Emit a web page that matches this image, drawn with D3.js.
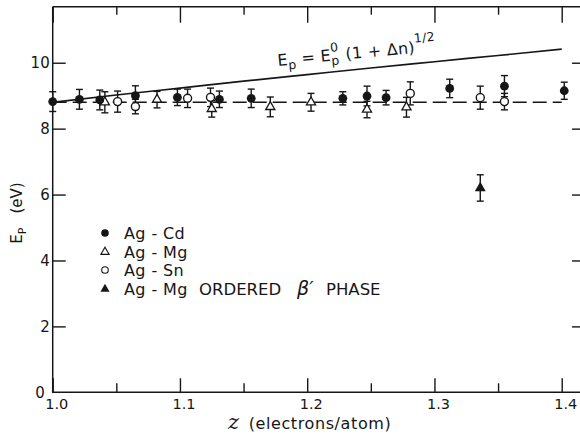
<!DOCTYPE html>
<html><head><meta charset="utf-8">
<script src="https://cdn.jsdelivr.net/npm/d3@7"></script>
<style>
body{margin:0;background:#fff;}
svg{display:block;}
text{font-family:"DejaVu Sans",sans-serif;fill:#161616;white-space:pre;}
</style></head>
<body><svg id="c" width="580" height="440"></svg>
<script>
// ---- data ----
const xTickMajor = [1.0, 1.1, 1.2, 1.3, 1.4];
const xTickLabels = ["1.0", "1.1", "1.2", "1.3", "1.4"];
const xTickMinor = [1.05, 1.15, 1.25, 1.35];
const yTicks = [0, 2, 4, 6, 8, 10];
const yTickLabels = ["0", "2", "4", "6", "8", "10"];

// Ag-Cd (filled circles): z, Ep, error
const agCdZ   = [1.000, 1.021, 1.037, 1.065, 1.098, 1.131, 1.156, 1.228, 1.247, 1.262, 1.312, 1.355, 1.402];
const agCdE   = [8.82, 8.89, 8.87, 9.00, 8.95, 8.89, 8.92, 8.92, 8.99, 8.94, 9.22, 9.29, 9.15];
const agCdErr = [0.30, 0.30, 0.30, 0.30, 0.25, 0.25, 0.28, 0.20, 0.30, 0.22, 0.28, 0.32, 0.26];

// Ag-Mg (open triangles)
const agMgZ   = [1.041, 1.082, 1.125, 1.171, 1.203, 1.247, 1.278];
const agMgE   = [8.80, 8.88, 8.60, 8.66, 8.80, 8.58, 8.65];
const agMgErr = [0.32, 0.25, 0.25, 0.30, 0.27, 0.25, 0.30];

// Ag-Sn (open circles)
const agSnZ   = [1.051, 1.065, 1.106, 1.124, 1.281, 1.336, 1.355];
const agSnE   = [8.82, 8.67, 8.92, 8.95, 9.07, 8.94, 8.82];
const agSnErr = [0.32, 0.22, 0.28, 0.28, 0.35, 0.35, 0.25];

// Ag-Mg ordered beta' phase (filled triangle)
const agMgOrdZ   = [1.336];
const agMgOrdE   = [6.20];
const agMgOrdErr = [0.40];

// solid curve Ep = Ep0 (1+dn)^1/2
const curveZ = [1.00, 1.05, 1.10, 1.15, 1.20, 1.25, 1.30, 1.35, 1.40];
const curveE = [8.80, 9.02, 9.23, 9.44, 9.64, 9.84, 10.03, 10.22, 10.41];

// dashed constant line
const dashZ = [1.00, 1.40];
const dashE = [8.80, 8.80];

const legendLabels = ["Ag - Cd", "Ag - Mg", "Ag - Sn", "Ag - Mg"];
const legendExtra = ["ORDERED", "\u03B2\u2032", "PHASE"];

// ---- drawing ----
const ink = "#161616";
const svg = d3.select("#c");
const x = d3.scaleLinear().domain([1.0, 1.4]).range([52.7, 561.7]);
const y = d3.scaleLinear().domain([0, 11.7]).range([392.3, 6.7]);
const xRight = 585, yTop = y(11.7), yBot = y(0), xLeft = x(1.0);

// frame
const frame = svg.append("g").attr("stroke", ink).attr("stroke-width", 1.5).attr("fill", "none");
frame.append("path").attr("d", `M${xLeft},${yTop}V${yBot}H${xRight}`);
frame.append("path").attr("d", `M${xLeft},${yTop}H${xRight}V${yBot}`);

function styleTicks(g) { g.select(".domain").remove(); g.selectAll("line").attr("stroke", ink).attr("stroke-width", 1.4); }
svg.append("g").attr("transform", `translate(0,${yBot})`).call(d3.axisBottom(x).tickValues(xTickMajor).tickSize(-14).tickFormat("")).call(styleTicks);
svg.append("g").attr("transform", `translate(0,${yBot})`).call(d3.axisBottom(x).tickValues(xTickMinor).tickSize(-9).tickFormat("")).call(styleTicks);
svg.append("g").attr("transform", `translate(0,${yTop})`).call(d3.axisTop(x).tickValues(xTickMajor).tickSize(-16).tickFormat("")).call(styleTicks);
svg.append("g").attr("transform", `translate(0,${yTop})`).call(d3.axisTop(x).tickValues(xTickMinor).tickSize(-8).tickFormat("")).call(styleTicks);
svg.append("g").attr("transform", `translate(${xLeft},0)`).call(d3.axisLeft(y).tickValues(yTicks.slice(1)).tickSize(-13).tickFormat("")).call(styleTicks);
svg.append("g").attr("transform", `translate(${xRight},0)`).call(d3.axisRight(y).tickValues(yTicks.slice(1)).tickSize(-13).tickFormat("")).call(styleTicks);

// tick labels
svg.append("g").selectAll("text").data(xTickMajor).join("text")
  .attr("x", d => x(d) + 4).attr("y", yBot + 17).attr("text-anchor", "middle")
  .attr("font-size", 14.5).text((d, i) => xTickLabels[i]);
svg.append("g").selectAll("text").data(yTicks).join("text")
  .attr("x", d => d === 0 ? xLeft - 8 : xLeft - 3).attr("y", d => y(d) + 5.5).attr("text-anchor", "end")
  .attr("font-size", 15).text((d, i) => yTickLabels[i]);

// axis titles
const xt = svg.append("text").attr("x", 228).attr("y", 429).attr("font-size", 16).attr("letter-spacing", 0.6);
xt.append("tspan").attr("font-style", "italic").attr("font-family", "DejaVu Serif").attr("font-size", 21).text("z");
xt.append("tspan").attr("dx", 9).text("(electrons/atom)");

const yt = svg.append("text").attr("transform", "translate(22,213) rotate(-90)").attr("text-anchor", "middle").attr("font-size", 15);
yt.append("tspan").text("E");
yt.append("tspan").attr("font-size", 11).attr("dy", 4).text("P");
yt.append("tspan").attr("dy", -4).attr("dx", 14).text("(eV)");

// lines
const line = d3.line().x(d => x(d[0])).y(d => y(d[1]));
svg.append("path").datum(dashZ.map((z, i) => [z, dashE[i]])).attr("d", line)
  .attr("fill", "none").attr("stroke", ink).attr("stroke-width", 1.5).attr("stroke-dasharray", "14,6");
svg.append("path").datum(curveZ.map((z, i) => [z, curveE[i]])).attr("d", d3.line().curve(d3.curveMonotoneX).x(d => x(d[0])).y(d => y(d[1])))
  .attr("fill", "none").attr("stroke", ink).attr("stroke-width", 1.7);

// error bars
function errBars(zs, es, errs) {
  const g = svg.append("g").attr("stroke", ink).attr("stroke-width", 1.4);
  zs.forEach((z, i) => {
    const cx = x(z), t = y(es[i] + errs[i]), b = y(es[i] - errs[i]);
    g.append("line").attr("x1", cx).attr("x2", cx).attr("y1", t).attr("y2", b);
    g.append("line").attr("x1", cx - 3.5).attr("x2", cx + 3.5).attr("y1", t).attr("y2", t);
    g.append("line").attr("x1", cx - 3.5).attr("x2", cx + 3.5).attr("y1", b).attr("y2", b);
  });
}
errBars(agCdZ, agCdE, agCdErr);
errBars(agMgZ, agMgE, agMgErr);
errBars(agSnZ, agSnE, agSnErr);
errBars(agMgOrdZ, agMgOrdE, agMgOrdErr);

const triSym = d3.symbol().type(d3.symbolTriangle);
function points(zs, es, kind, size) {
  const g = svg.append("g");
  zs.forEach((z, i) => {
    const cx = x(z), cy = y(es[i]);
    if (kind === "fc") g.append("circle").attr("cx", cx).attr("cy", cy).attr("r", size).attr("fill", ink);
    if (kind === "oc") g.append("circle").attr("cx", cx).attr("cy", cy).attr("r", size).attr("fill", "#fff").attr("stroke", ink).attr("stroke-width", 1.4);
    if (kind === "ot") g.append("path").attr("d", triSym.size(size)()).attr("transform", `translate(${cx},${cy})`).attr("fill", "#fff").attr("stroke", ink).attr("stroke-width", 1.3);
    if (kind === "ft") g.append("path").attr("d", triSym.size(size)()).attr("transform", `translate(${cx},${cy})`).attr("fill", ink);
  });
}
points(agMgZ, agMgE, "ot", 36);
points(agSnZ, agSnE, "oc", 4.0);
points(agCdZ, agCdE, "fc", 4.4);
points(agMgOrdZ, agMgOrdE, "ft", 52);

// legend
const legY = [233, 252, 270, 289];
const legKinds = ["fc", "ot", "oc", "ft"];
const lg = svg.append("g");
legKinds.forEach((k, i) => {
  const cx = 105, cy = legY[i];
  if (k === "fc") lg.append("circle").attr("cx", cx).attr("cy", cy).attr("r", 3.8).attr("fill", ink);
  if (k === "oc") lg.append("circle").attr("cx", cx).attr("cy", cy).attr("r", 3.3).attr("fill", "#fff").attr("stroke", ink).attr("stroke-width", 1.1);
  if (k === "ot") lg.append("path").attr("d", triSym.size(30)()).attr("transform", `translate(${cx},${cy})`).attr("fill", "#fff").attr("stroke", ink).attr("stroke-width", 1.1);
  if (k === "ft") lg.append("path").attr("d", triSym.size(36)()).attr("transform", `translate(${cx},${cy})`).attr("fill", ink);
  lg.append("text").attr("x", 124).attr("y", cy + 5.5).attr("font-size", 16).attr("letter-spacing", 0.4).text(legendLabels[i]);
});
const extraX = [199, 297, 326];
const extraSize = [16.5, 19, 16.5];
legendExtra.forEach((t, i) => {
  lg.append("text").attr("x", extraX[i]).attr("y", legY[3] + 5.5).attr("font-size", extraSize[i])
    .attr("font-style", i === 1 ? "italic" : null).attr("font-family", i === 1 ? "DejaVu Serif" : null).text(t);
});

// equation label
const eq = svg.append("g").attr("transform", "translate(278,66) rotate(-5.5)");
let cur = 0;
function piece(txt, dy, fs) {
  const t = eq.append("text").attr("x", cur).attr("y", dy).attr("font-size", fs).attr("letter-spacing", 0.3).text(txt);
  return t.node().getComputedTextLength();
}
cur += piece("E", 0, 16);
cur += piece("p", 4.5, 12.5);
cur += piece(" = E", 0, 16);
const w0 = piece("0", -9, 12.5);
piece("p", 4.5, 12.5);
cur += w0 + 1;
cur += piece(" (1 + \u0394n)", 0, 16);
piece("1/2", -10, 12.5);
</script></body></html>
